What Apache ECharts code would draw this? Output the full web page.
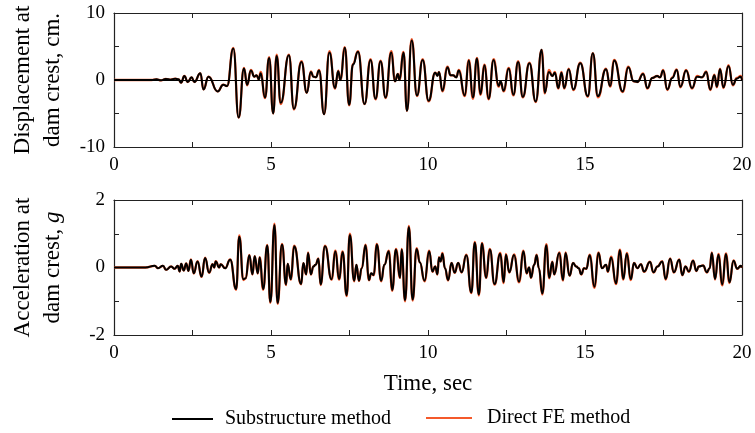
<!DOCTYPE html>
<html>
<head>
<meta charset="utf-8">
<script src="https://cdn.jsdelivr.net/npm/echarts@6/dist/echarts.min.js"></script>
<style>html,body{margin:0;padding:0;background:#fff;}#c{width:755px;height:433px;}</style>
</head>
<body>
<div id="c"></div>
<script>
// ---- Displacement at dam crest (cm), read at local extrema ----
var dispTime = [0,1.2,1.35,1.5,1.65,1.8,1.95,2.05,2.14,2.24,
  2.35,2.47,2.56,2.75,2.85,3.01,3.3,3.48,3.6,3.8,
  3.97,4.14,4.24,4.36,4.47,4.54,4.61,4.67,4.81,4.94,
  5.07,5.18,5.31,5.57,5.73,5.97,6.14,6.27,6.35,6.43,
  6.53,6.69,6.86,7.04,7.14,7.21,7.35,7.49,7.61,7.77,
  7.98,8.17,8.33,8.49,8.65,8.83,8.95,9.04,9.09,9.22,
  9.33,9.48,9.65,9.83,10.02,10.23,10.3,10.35,10.46,10.62,
  10.72,10.8,10.9,10.98,11.17,11.3,11.43,11.56,11.67,11.8,
  11.93,12.09,12.25,12.31,12.41,12.57,12.72,12.87,13.02,13.23,
  13.43,13.62,13.72,13.85,13.96,14.04,14.15,14.25,14.34,14.48,
  14.63,14.85,15.09,15.25,15.41,15.67,15.8,15.93,16.2,16.38,
  16.55,16.67,16.85,16.99,17.14,17.3,17.39,17.49,17.62,17.78,
  17.92,18.04,18.22,18.41,18.57,18.73,18.86,18.99,19.12,19.2,
  19.3,19.41,19.57,19.71,19.83,19.96,20];
var dispSub = [0,0,0.1,-0.05,0.15,0.05,0.2,0.1,-0.4,0.6,
  -0.3,0.4,-0.3,1.0,-1.4,0.5,-1.7,-0.7,-0.9,4.7,
  -5.6,1.7,-0.7,1.4,0.5,0.7,0.1,1.0,-2.6,3.3,
  -5.0,3.6,-3.4,3.7,-4.3,2.7,-1.9,1.2,0.5,0.4,
  1.4,-5.1,4.1,-1.2,1.3,0.0,4.8,-3.7,2.3,4.2,
  -3.6,3.0,-2.8,2.8,-2.6,4.1,-0.2,0.9,0.0,4.1,
  -4.6,5.9,-2.3,3.0,-3.1,1.1,0.6,1.2,-1.6,1.9,
  0.7,0.7,0.4,1.4,-2.3,2.9,-2.6,3.2,-2.1,2.2,
  -2.8,3.0,-0.9,-0.2,-1.6,1.7,-2.2,2.7,-2.5,2.5,
  -3.2,4.5,-1.9,1.2,0.6,1.1,-1.2,1.1,-1.2,1.6,
  -1.4,2.5,-2.4,4.0,-2.4,1.6,-0.9,2.9,-1.7,1.9,
  -0.2,-0.3,0.9,-1.2,0.3,0.6,0.4,1.4,-1.4,0.3,
  1.5,-1.0,1.4,-1.2,0.5,0.4,1.2,-1.4,0.7,-1.0,
  1.6,-1.1,2.1,-0.7,0.2,0.5,0.0];
var dispFE = [0,0,0.1,-0.05,0.15,0.05,0.2,0.1,-0.4,0.6,
  -0.3,0.4,-0.3,1.0,-1.4,0.5,-1.7,-0.7,-0.9,4.8,
  -5.6,1.8,-0.8,1.5,0.5,0.7,0.1,1.2,-2.7,3.4,
  -5.0,3.8,-3.6,3.8,-4.4,2.8,-1.9,1.3,0.5,0.4,
  1.5,-5.1,4.3,-1.3,1.4,0.0,4.9,-3.8,2.4,4.3,
  -3.6,3.1,-2.9,2.9,-2.7,4.3,-0.2,0.9,0.0,4.2,
  -4.6,6.1,-2.4,3.1,-3.2,1.1,0.7,1.2,-1.7,2.0,
  0.7,0.7,0.4,1.5,-2.4,3.0,-2.8,3.3,-2.2,2.3,
  -2.9,3.1,-1.0,-0.2,-1.7,1.8,-2.3,2.8,-2.6,2.6,
  -3.3,4.5,-2.0,1.5,0.6,1.2,-1.3,1.2,-1.3,1.7,
  -1.5,2.6,-2.5,4.0,-2.6,1.7,-1.0,3.0,-1.8,2.0,
  -0.2,-0.3,1.0,-1.3,0.3,0.6,0.4,1.5,-1.5,0.4,
  1.6,-1.1,1.5,-1.3,0.6,0.4,1.3,-1.5,0.8,-1.1,
  1.7,-1.2,2.2,-0.8,0.3,0.6,0.0];

// ---- Acceleration at dam crest (g), read at local extrema ----
var accTime = [0,1.0,1.3,1.4,1.56,1.66,1.82,1.93,2.03,2.09,
  2.14,2.22,2.3,2.37,2.45,2.54,2.66,2.79,2.9,3.03,
  3.14,3.19,3.24,3.35,3.4,3.54,3.7,3.89,3.99,4.12,
  4.19,4.31,4.41,4.48,4.58,4.64,4.75,4.88,4.98,5.11,
  5.21,5.35,5.48,5.53,5.63,5.74,5.96,6.03,6.12,6.18,
  6.27,6.35,6.42,6.51,6.58,6.72,6.93,7.05,7.17,7.28,
  7.41,7.51,7.65,7.72,7.8,7.89,8.01,8.12,8.19,8.27,
  8.37,8.51,8.61,8.75,8.86,8.98,9.11,9.16,9.27,9.39,
  9.51,9.64,9.74,9.89,10.04,10.14,10.23,10.3,10.35,10.4,
  10.46,10.54,10.64,10.75,10.85,10.96,11.07,11.22,11.38,11.49,
  11.62,11.72,11.85,11.97,12.12,12.3,12.41,12.48,12.59,12.74,
  12.9,13.04,13.14,13.22,13.28,13.38,13.46,13.53,13.64,13.77,
  13.86,13.96,14.02,14.18,14.3,14.38,14.51,14.62,14.72,14.8,
  14.88,14.97,15.04,15.15,15.3,15.43,15.54,15.67,15.73,15.83,
  15.99,16.11,16.22,16.33,16.46,16.56,16.67,16.78,16.88,17.07,
  17.18,17.31,17.46,17.57,17.71,17.83,18.0,18.1,18.2,18.31,
  18.44,18.55,18.62,18.76,18.88,18.97,19.04,19.14,19.25,19.37,
  19.49,19.6,19.73,19.85,19.96,20];
var accSub = [0,0,0.05,-0.02,0.05,-0.07,0.03,-0.04,0.05,-0.12,
  0.11,-0.09,0.12,-0.1,0.23,-0.17,0.18,-0.27,0.28,-0.15,
  0.1,0.0,0.18,0.0,0.1,-0.02,0.23,-0.64,0.91,-0.35,
  -0.32,0.36,-0.2,0.33,-0.17,0.3,-0.64,0.65,-1.02,1.26,
  -1.05,0.68,-0.5,0.11,-0.35,0.63,-0.49,0.13,-0.2,0.43,
  -0.2,0.03,0.08,0.26,-0.5,0.63,-0.35,0.48,-0.35,0.46,
  -0.82,0.96,-0.39,0.08,-0.39,-0.02,0.66,-0.37,-0.17,-0.22,
  0.68,-0.39,0.08,0.48,-0.67,0.53,-0.3,0.53,-0.97,1.2,
  -0.95,0.55,0.15,-0.39,0.48,-0.12,0.03,-0.2,0.3,0.18,
  0.41,-0.02,-0.37,0.13,-0.15,0.13,-0.14,0.36,-0.74,0.73,
  -0.8,0.71,-0.3,0.53,-0.49,0.41,-0.44,0.38,-0.14,0.37,
  -0.42,0.48,-0.17,0.0,-0.3,0.08,0.36,-0.02,-0.77,0.66,
  -0.3,0.16,-0.2,0.43,-0.37,0.43,-0.24,0.13,0.03,-0.02,
  -0.2,-0.02,-0.04,0.36,-0.57,0.43,-0.02,0.08,-0.12,0.3,
  -0.47,0.51,-0.34,0.41,-0.35,0.13,-0.02,0.1,-0.12,0.16,
  -0.14,0.03,0.18,-0.34,0.26,-0.14,0.23,-0.22,0.03,-0.12,
  0.2,-0.1,0.03,0.06,-0.14,-0.02,0.43,-0.34,0.38,-0.5,
  0.4,-0.44,0.2,-0.04,0.05,0.0];
var accFE = [0,0,0.05,-0.02,0.05,-0.07,0.03,-0.04,0.05,-0.12,
  0.11,-0.09,0.12,-0.1,0.24,-0.18,0.19,-0.28,0.29,-0.16,
  0.1,0.0,0.19,0.0,0.1,-0.02,0.24,-0.66,0.95,-0.37,
  -0.33,0.37,-0.21,0.34,-0.18,0.31,-0.66,0.67,-1.05,1.3,
  -1.08,0.7,-0.52,0.11,-0.36,0.65,-0.5,0.13,-0.21,0.45,
  -0.21,0.03,0.08,0.27,-0.52,0.65,-0.36,0.5,-0.36,0.48,
  -0.85,1.0,-0.41,0.08,-0.4,-0.02,0.68,-0.38,-0.18,-0.23,
  0.7,-0.41,0.08,0.5,-0.69,0.55,-0.31,0.55,-1.0,1.23,
  -0.98,0.57,0.15,-0.41,0.5,-0.13,0.03,-0.21,0.31,0.18,
  0.43,-0.02,-0.39,0.14,-0.16,0.14,-0.15,0.38,-0.76,0.76,
  -0.83,0.73,-0.31,0.55,-0.51,0.43,-0.46,0.4,-0.15,0.39,
  -0.44,0.5,-0.18,0.0,-0.31,0.08,0.38,-0.02,-0.8,0.69,
  -0.32,0.17,-0.21,0.45,-0.39,0.45,-0.25,0.14,0.03,-0.02,
  -0.21,-0.02,-0.04,0.38,-0.6,0.45,-0.02,0.08,-0.13,0.32,
  -0.49,0.53,-0.36,0.43,-0.37,0.14,-0.02,0.1,-0.13,0.17,
  -0.15,0.03,0.19,-0.36,0.27,-0.15,0.24,-0.23,0.03,-0.13,
  0.21,-0.11,0.03,0.06,-0.15,-0.02,0.45,-0.36,0.4,-0.53,
  0.42,-0.46,0.21,-0.04,0.05,0.0];

var xTicks = [0, 5, 10, 15, 20];
var dispTickLabels = [-10, 0, 10];
var accTickLabels = [-2, 0, 2];
var seriesNames = ['Substructure method', 'Direct FE method'];

function zip(t, v) { return t.map(function (x, i) { return [x, v[i]]; }); }

var FONT = 'Liberation Serif';
var BLACK = '#000000';
var ORANGE = '#f4592b';

function xAxisCfg(grid, pos, showLabels, extra) {
  var a = {
    type: 'value', gridIndex: grid, position: pos, min: 0, max: 20, interval: 2.5,
    axisLine: { show: true, onZero: false, lineStyle: { color: '#222', width: 1.2 } },
    axisTick: { show: true, inside: true, length: 5, lineStyle: { color: '#222', width: 1 } },
    splitLine: { show: false },
    axisLabel: {
      show: showLabels, margin: 9, fontFamily: FONT, fontSize: 19, color: '#000',
      formatter: function (v) { return xTicks.indexOf(v) >= 0 ? String(v) : ''; }
    }
  };
  if (extra) for (var k in extra) a[k] = extra[k];
  return a;
}
function yAxisCfg(grid, pos, min, max, interval, labels, showLabels, extra) {
  var a = {
    type: 'value', gridIndex: grid, position: pos, min: min, max: max, interval: interval,
    axisLine: { show: true, onZero: false, lineStyle: { color: '#222', width: 1.2 } },
    axisTick: { show: true, inside: true, length: 5, lineStyle: { color: '#222', width: 1 } },
    splitLine: { show: false },
    axisLabel: {
      show: showLabels, margin: 9, fontFamily: FONT, fontSize: 19, color: '#000',
      formatter: function (v) { return labels.indexOf(v) >= 0 ? String(v) : ''; }
    }
  };
  if (extra) for (var k in extra) a[k] = extra[k];
  return a;
}

var chart = echarts.init(document.getElementById('c'), null, { renderer: 'canvas' });
var lineBase = { type: 'line', showSymbol: false, symbol: 'none', smooth: 0.5, smoothMonotone: 'x', animation: false };

chart.setOption({
  backgroundColor: '#ffffff',
  animation: false,
  grid: [
    { left: 109, top: 13, width: 633, height: 134 },
    { left: 109, top: 200, width: 633, height: 135 }
  ],
  legend: [
    { data: [seriesNames[0]], left: 167, top: 404, icon: 'rect', itemWidth: 41, itemHeight: 2,
      itemStyle: { color: BLACK },
      textStyle: { fontFamily: FONT, fontSize: 20, color: '#000', padding: [0, 0, 0, 7] } },
    { data: [seriesNames[1]], left: 421, top: 403, icon: 'rect', itemWidth: 46, itemHeight: 2,
      itemStyle: { color: ORANGE },
      textStyle: { fontFamily: FONT, fontSize: 20, color: '#000', padding: [0, 0, 0, 10] } }
  ],
  xAxis: [
    xAxisCfg(0, 'bottom', true),
    xAxisCfg(0, 'top', false),
    xAxisCfg(1, 'bottom', true, {
      name: 'Time, sec', nameLocation: 'middle', nameGap: 37,
      nameTextStyle: { fontFamily: FONT, fontSize: 23, color: '#000' }
    }),
    xAxisCfg(1, 'top', false)
  ],
  yAxis: [
    yAxisCfg(0, 'left', -10, 10, 5, dispTickLabels, true, {
      name: 'Displacement at\ndam crest, cm.', nameLocation: 'middle', nameGap: 46, nameRotate: 90,
      nameTextStyle: { fontFamily: FONT, fontSize: 23, color: '#000', lineHeight: 30 }
    }),
    yAxisCfg(0, 'right', -10, 10, 5, dispTickLabels, false),
    yAxisCfg(1, 'left', -2, 2, 1, accTickLabels, true, {
      name: '{a|Acceleration at}\n{a|dam crest, }{i|g}', nameLocation: 'middle', nameGap: 46, nameRotate: 90,
      nameTextStyle: { fontFamily: FONT, fontSize: 23, color: '#000', lineHeight: 30,
        rich: { a: { fontFamily: FONT, fontSize: 23, color: '#000', lineHeight: 30 },
                i: { fontFamily: FONT, fontSize: 23, color: '#000', fontStyle: 'italic', lineHeight: 30 } } }
    }),
    yAxisCfg(1, 'right', -2, 2, 1, accTickLabels, false)
  ],
  series: [
    Object.assign({}, lineBase, { name: seriesNames[1], xAxisIndex: 0, yAxisIndex: 0, data: zip(dispTime, dispFE),
      lineStyle: { color: ORANGE, width: 2.3 }, itemStyle: { color: ORANGE } }),
    Object.assign({}, lineBase, { name: seriesNames[0], xAxisIndex: 0, yAxisIndex: 0, data: zip(dispTime, dispSub),
      lineStyle: { color: BLACK, width: 2 }, itemStyle: { color: BLACK },
      markLine: { silent: true, symbol: ['none', 'none'], label: { show: false }, animation: false,
        lineStyle: { color: '#000', width: 1, type: 'solid' }, data: [{ yAxis: 0 }] } }),
    Object.assign({}, lineBase, { name: seriesNames[1], xAxisIndex: 2, yAxisIndex: 2, data: zip(accTime, accFE),
      lineStyle: { color: ORANGE, width: 2.3 }, itemStyle: { color: ORANGE } }),
    Object.assign({}, lineBase, { name: seriesNames[0], xAxisIndex: 2, yAxisIndex: 2, data: zip(accTime, accSub),
      lineStyle: { color: BLACK, width: 2 }, itemStyle: { color: BLACK } })
  ]
});
</script>
</body>
</html>
